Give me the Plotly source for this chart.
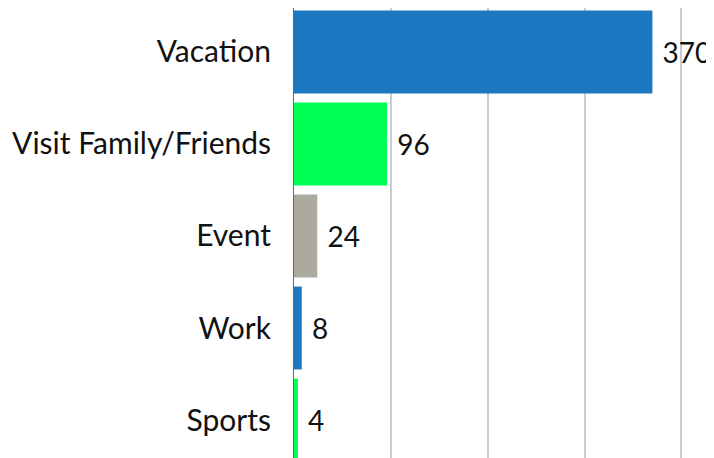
import plotly.graph_objects as go

# --- data ---
categories = ["Vacation", "Visit Family/Friends", "Event", "Work", "Sports"]
counts = [370, 96, 24, 8, 4]
bar_colors = ["#1b77c0", "#00ff55", "#aca99f", "#1b77c0", "#00ff55"]

fig = go.Figure(go.Bar(
    y=categories, x=counts, orientation="h",
    marker=dict(color=bar_colors, line=dict(width=0)),
    texttemplate=" %{x}", textposition="outside",
    textfont=dict(size=28, color="#111"), cliponaxis=False,
))

# page has an 8px body margin, so the figure is 8px smaller than the window
fig.update_layout(
    width=706, height=450,
    margin=dict(l=286, r=0, t=0, b=0),
    paper_bgcolor="white", plot_bgcolor="white",
    font=dict(family="Lato, Noto Sans, sans-serif", color="#111"),
    bargap=0.1, showlegend=False,
)
fig.update_xaxes(
    range=[0, 433.6], showticklabels=False, showgrid=True,
    gridcolor="#cccccc", gridwidth=2, dtick=100, zeroline=False,
    automargin=False,
)
fig.update_yaxes(
    type="category", range=[4.413, -0.478], showgrid=False,
    showline=True, linecolor="#666", linewidth=1,
    tickfont=dict(size=30), ticklabelstandoff=16, ticks="",
    automargin=False,
)

fig.write_html("out.html")
